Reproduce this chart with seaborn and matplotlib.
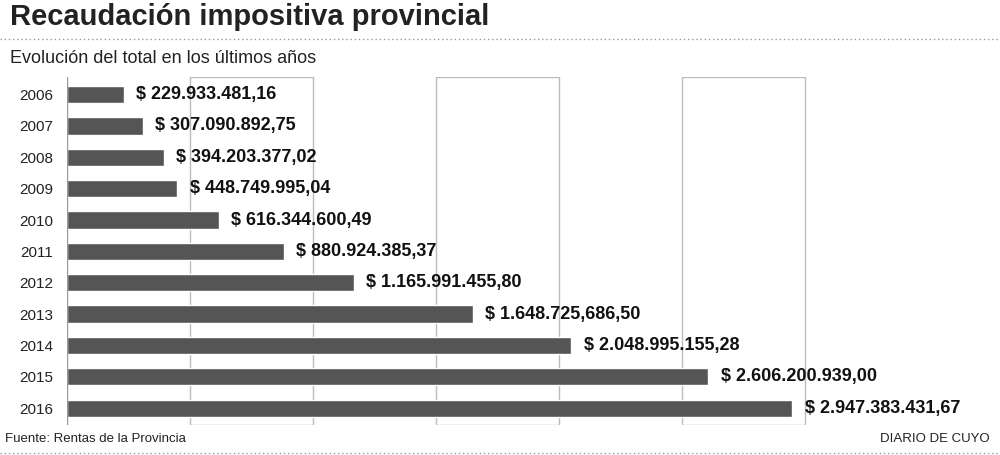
import matplotlib
matplotlib.use("Agg")
import matplotlib.pyplot as plt
import seaborn as sns
import pandas as pd

years = ["2006","2007","2008","2009","2010","2011","2012","2013","2014","2015","2016"]
values = [229933481.16, 307090892.75, 394203377.02, 448749995.04, 616344600.49,
          880924385.37, 1165991455.80, 1648725686.50, 2048995155.28, 2606200939.00,
          2947383431.67]
labels = ["$ 229.933.481,16","$ 307.090.892,75","$ 394.203.377,02","$ 448.749.995,04",
          "$ 616.344.600,49","$ 880.924.385,37","$ 1.165.991.455,80","$ 1.648.725,686,50",
          "$ 2.048.995.155,28","$ 2.606.200.939,00","$ 2.947.383.431,67"]

df = pd.DataFrame({"year": years, "value": values})
sns.set_theme(style="white")
plt.rcParams['font.family'] = ['Liberation Sans', 'DejaVu Sans']

fig = plt.figure(figsize=(10, 4.55), dpi=100, facecolor="white")
ax = fig.add_axes([0.067, 0.065, 0.923, 0.765])
sns.barplot(data=df, y="year", x="value", color="#555555", width=0.55, ax=ax, saturation=1)
ax.set_xlim(0, 3.75e9)
ax.set_ylim(10.55, -0.55)
for x0 in [0.5e9, 1.5e9, 2.5e9]:
    ax.add_patch(plt.Rectangle((x0, -0.55), 0.5e9, 11.1, fill=False, edgecolor="#bbbbbb", lw=1, zorder=0))
ax.axvline(0, color="#999999", lw=1)
for i, (v, l) in enumerate(zip(values, labels)):
    ax.text(v + 0.05e9, i, l, va="center", ha="left", fontsize=13, fontweight="bold", color="#111111")
ax.set_xlabel(""); ax.set_ylabel("")
ax.set_xticks([])
ax.tick_params(axis="y", length=0, labelsize=11, pad=10)
for lab in ax.get_yticklabels():
    lab.set_color("#222222")
for s in ax.spines.values():
    s.set_visible(False)

fig.text(0.01, 0.962, "Recaudación impositiva provincial", fontsize=21, fontweight="bold", va="center", color="#222222")
fig.text(0.01, 0.872, "Evolución del total en los últimos años", fontsize=13, va="center", color="#222222")
fig.add_artist(plt.Line2D([0.0, 1.0], [0.915, 0.915], transform=fig.transFigure, color="#999999", lw=1, ls=(0, (1, 2))))
fig.add_artist(plt.Line2D([0.0, 1.0], [0.005, 0.005], transform=fig.transFigure, color="#999999", lw=1, ls=(0, (1, 2))))
fig.text(0.005, 0.035, "Fuente: Rentas de la Provincia", fontsize=9.5, va="center", color="#222222")
fig.text(0.99, 0.035, "DIARIO DE CUYO", fontsize=9.5, va="center", ha="right", color="#222222")
fig.savefig("out.png", dpi=100, facecolor="white")
